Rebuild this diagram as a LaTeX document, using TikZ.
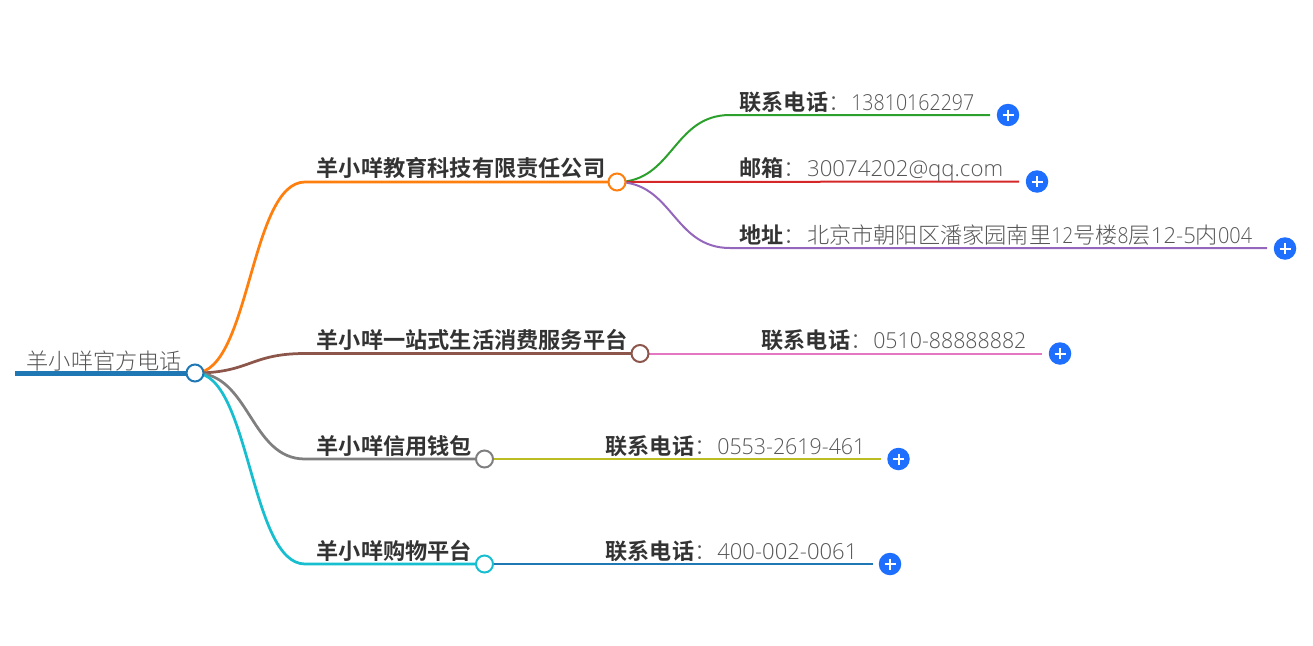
\documentclass[tikz,border=0pt]{standalone}
\usepackage{fontspec}
\usepackage{graphicx}
\usetikzlibrary{positioning}
\usetikzlibrary{backgrounds}
\newfontfamily\cjkbold{Noto Sans CJK SC Bold}
\newfontfamily\cjklight{Noto Sans CJK SC Light}
\newfontfamily\numlight{Open Sans Light}
\definecolor{mroot}{HTML}{1F77B4}
\definecolor{morange}{HTML}{FF7F0E}
\definecolor{mbrown}{HTML}{8C564B}
\definecolor{mgray}{HTML}{7F7F7F}
\definecolor{mcyan}{HTML}{17BECF}
\definecolor{mgreen}{HTML}{2CA02C}
\definecolor{mred}{HTML}{D62728}
\definecolor{mpurple}{HTML}{9467BD}
\definecolor{mpink}{HTML}{E377C2}
\definecolor{molive}{HTML}{BCBD22}
\definecolor{mplus}{HTML}{1F6FFF}
\definecolor{mtext}{HTML}{333333}
\definecolor{mvalue}{HTML}{555555}
\newcommand{\val}[1]{{\fontsize{22.2}{22}\cjklight\color{mvalue}#1}}
\newcommand{\num}[2]{\resizebox{#1pt}{\height}{\fontsize{22}{22}\numlight\color{mvalue}#2}}
\newcommand{\key}[1]{{\fontsize{22.1}{22}\cjkbold\color{mtext}#1}\val{：}}
\tikzset{
  topic/.style = {anchor = base west, inner sep = 0, font = \fontsize{22.2}{22}\cjkbold, text = mtext},
  leaf/.style = {anchor = base west, inner sep = 0},
  dot/.style = {circle, draw = #1, fill = white, line width = 2, inner sep = 0, minimum size = 17},
  plusdot/.style = {circle, fill = mplus, inner sep = 0, minimum size = 22.5, path picture = {
      \draw [white, line width = 2] (path picture bounding box.center) +(-5.5, 0) -- +(5.5, 0);
      \draw [white, line width = 2] (path picture bounding box.center) +(0, -5.5) -- +(0, 5.5);}},
  link/.style = {draw = #1, line width = 2}
}

\begin{document}
\begin{tikzpicture}[x=1pt, y=-1pt]
  \useasboundingbox (0, 0) rectangle (1313, 645);

  % root
  \coordinate (rootstart) at (15, 373);
  \node [leaf] (root) at (26.5, 369) {\val{羊小咩官方电话}};
  \node [dot=mroot] (rootdot) at (195, 373) {};

  % first level
  \coordinate (eduturn) at (305, 182);
  \coordinate (lifeturn) at (305, 353.5);
  \coordinate (creditturn) at (305, 459);
  \coordinate (shopturn) at (305, 564);
  \node [dot=morange] (edudot) at (617, 182) {};
  \node [dot=mbrown] (lifedot) at (640, 353.5) {};
  \node [dot=mgray] (creditdot) at (484.5, 459) {};
  \node [dot=mcyan] (shopdot) at (484.5, 564) {};

  \node [topic] (edu) at (316.5, 176) {羊小咩教育科技有限责任公司};
  \node [topic] (life) at (316.5, 348) {羊小咩一站式生活消费服务平台};
  \node [topic] (credit) at (316.5, 454) {羊小咩信用钱包};
  \node [topic] (shop) at (316.5, 559) {羊小咩购物平台};

  % leaves
  \coordinate (phoneturn) at (730, 115);
  \coordinate (addrturn) at (730, 248);
  \node [plusdot] (phoneplus) at (1008, 115) {};
  \node [plusdot] (mailplus) at (1037, 181.5) {};
  \node [plusdot] (addrplus) at (1285, 248.5) {};
  \node [plusdot] (lifeplus) at (1060, 353.5) {};
  \node [plusdot] (creditplus) at (898.5, 459) {};
  \node [plusdot] (shopplus) at (890, 564) {};
  \coordinate (phoneend) at (990, 115);
  \coordinate (mailend) at (1019, 181.5);
  \coordinate (addrend) at (1267, 248);
  \coordinate (lifeend) at (1042, 353.5);
  \coordinate (creditend) at (881, 459);
  \coordinate (shopend) at (873, 564);

  \node [leaf] (phone) at (739.5, 110) {\key{联系电话}\hspace{1pt}\num{123}{13810162297}};
  \node [leaf] (mail) at (739.5, 176) {\key{邮箱}\hspace{1pt}\num{196}{30074202@qq.com}};
  \node [leaf] (addr) at (739.5, 243) {\key{地址}\hspace{1pt}\val{北京市朝阳区潘家园南里}\num{22}{12}\val{号楼}\num{11}{8}\val{层}\num{45}{12-5}\val{内}\num{34}{004}};
  \node [leaf] (lifetel) at (761.5, 348) {\key{联系电话}\hspace{1pt}\num{153}{0510-88888882}};
  \node [leaf] (credittel) at (605.5, 454) {\key{联系电话}\hspace{1pt}\num{148}{0553-2619-461}};
  \node [leaf] (shoptel) at (605.5, 559) {\key{联系电话}\hspace{1pt}\num{140}{400-002-0061}};

  \begin{scope}[on background layer]
    \draw [mroot, line width = 5] (rootstart) -- (rootdot.center);
    \draw [link=morange, line width = 2.75] (rootdot.center) .. controls (250, 373) and (250, 182) .. (eduturn) -- (edudot.center);
    \draw [link=mbrown, line width = 2.75] (rootdot.center) .. controls (250, 373) and (250, 353.5) .. (lifeturn) -- (lifedot.center);
    \draw [link=mgray, line width = 2.75] (rootdot.center) .. controls (250, 373) and (250, 459) .. (creditturn) -- (creditdot.center);
    \draw [link=mcyan, line width = 2.75] (rootdot.center) .. controls (250, 373) and (250, 564) .. (shopturn) -- (shopdot.center);

    \draw [link=mgreen] (edudot.center) .. controls (673, 182) and (673, 115) .. (phoneturn) -- (phoneend);
    \draw [link=mred] (edudot.center) -- (mailend);
    \draw [link=mpurple] (edudot.center) .. controls (673, 182) and (673, 248) .. (addrturn) -- (addrend);
    \draw [link=mpink] (lifedot.center) -- (lifeend);
    \draw [link=molive] (creditdot.center) -- (creditend);
    \draw [link=mroot] (shopdot.center) -- (shopend);
  \end{scope}
\end{tikzpicture}
\end{document}
